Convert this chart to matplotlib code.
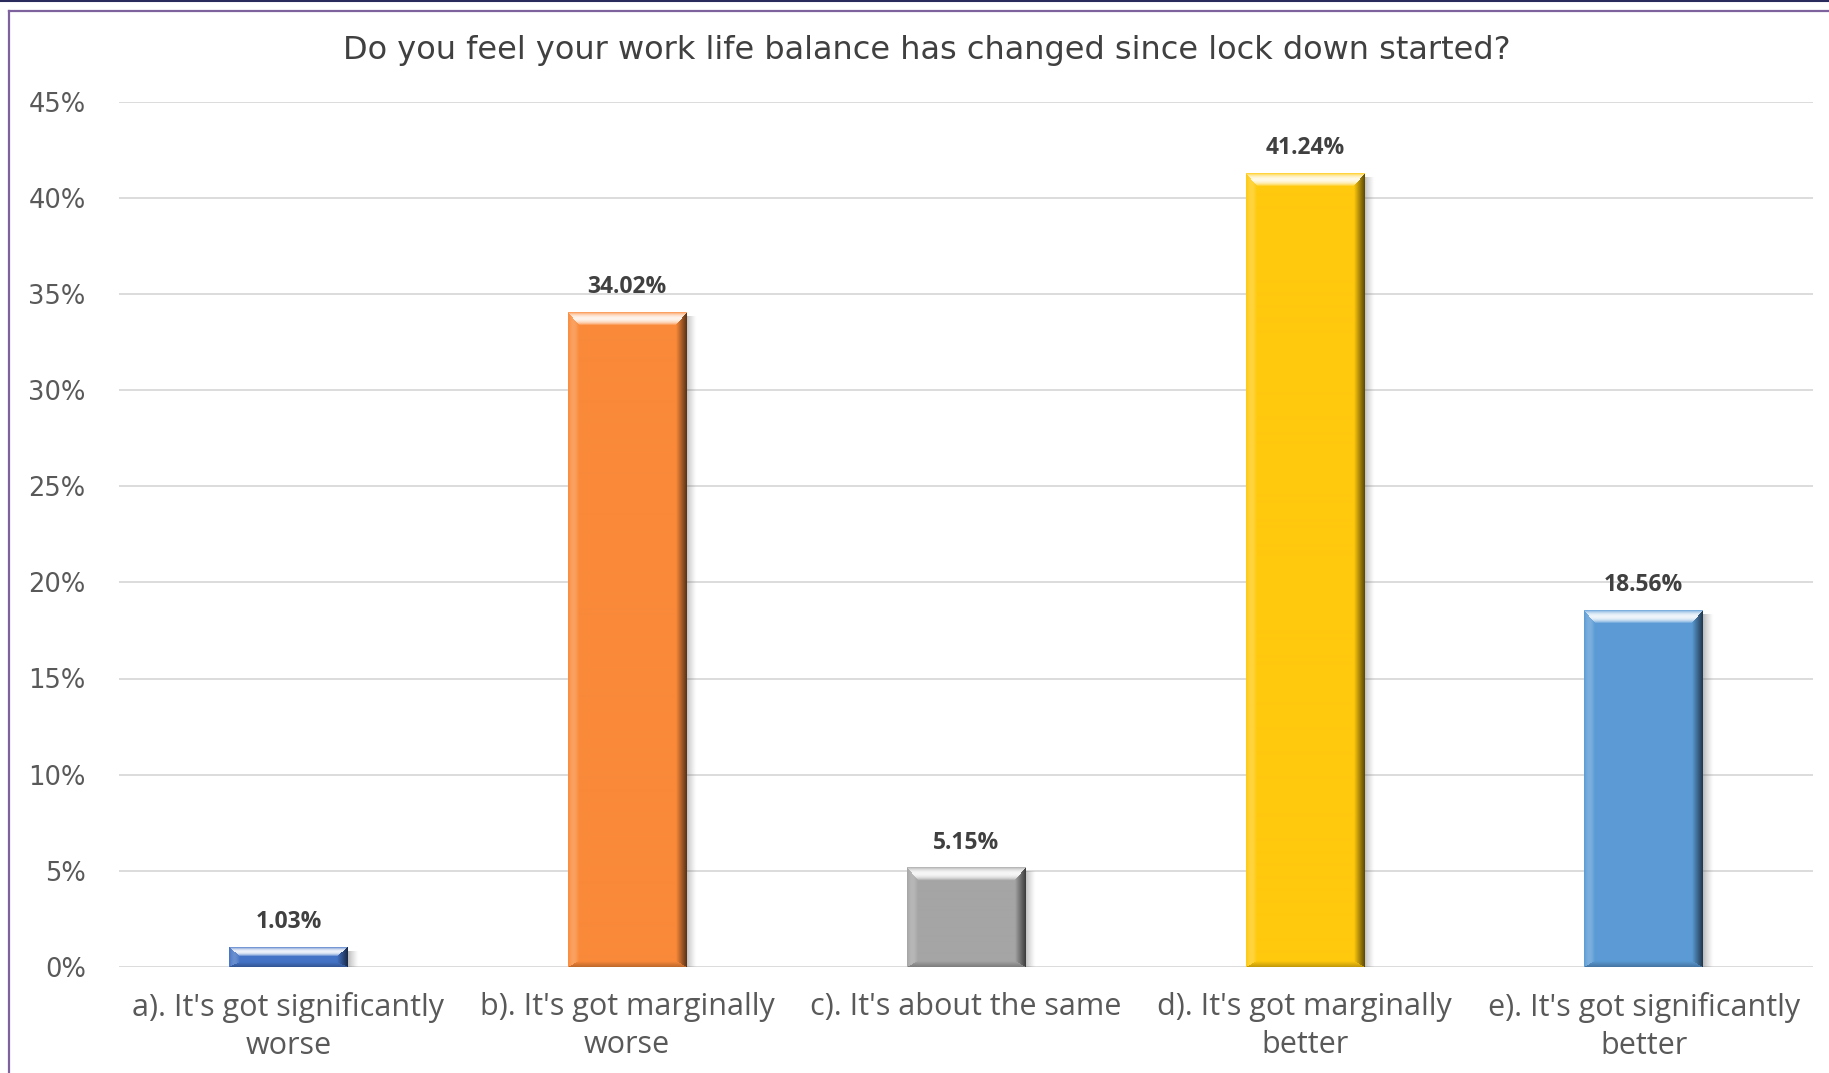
import matplotlib
matplotlib.use("Agg")
import matplotlib.pyplot as plt
import numpy as np
from matplotlib.lines import Line2D

categories = [
    "a). It's got significantly\nworse",
    "b). It's got marginally\nworse",
    "c). It's about the same",
    "d). It's got marginally\nbetter",
    "e). It's got significantly\nbetter",
]
values = [1.03, 34.02, 5.15, 41.24, 18.56]
bar_colors = ["#4472C4", "#FA8A3A", "#A5A5A5", "#FFC90E", "#5B9BD5"]
yticks = [0, 5, 10, 15, 20, 25, 30, 35, 40, 45]
title = "Do you feel your work life balance has changed since lock down started?"

W, H, DPI = 1829, 1073, 100
fig = plt.figure(figsize=(W / DPI, H / DPI), dpi=DPI)
fig.patch.set_facecolor("white")

# axes placed in pixel terms so bevel sizes can be given in pixels
ax_l, ax_r, ax_b, ax_t = 119, 1813, 106, 971.5
ax = fig.add_axes([ax_l / W, ax_b / H, (ax_r - ax_l) / W, (ax_t - ax_b) / H])
ax.set_xlim(-0.5, len(values) - 0.5)
ax.set_ylim(0, 45)
px_x = (ax_r - ax_l) / len(values)   # pixels per category
px_y = (ax_t - ax_b) / 45.0          # pixels per percent

bar_w = 0.35


def hex_rgb(c):
    c = c.lstrip("#")
    return np.array([int(c[i:i + 2], 16) for i in (0, 2, 4)]) / 255.0


def bevel_image(color, wpx, hpx):
    base = hex_rgb(color)
    hpx = max(int(round(hpx)), 2)
    wpx = int(round(wpx))
    rows = np.arange(hpx)[:, None] + 0.5
    cols = np.arange(wpx)[None, :] + 0.5
    bt = min(13.0, hpx / 2.2)
    bs = 11.0
    bb = min(6.0, hpx / 4.0)
    dt = rows / bt
    db = (hpx - rows) / bb
    dl = cols / bs
    dr = (wpx - cols) / bs
    d = np.stack(np.broadcast_arrays(dt, dr, db, dl))
    which = np.argmin(d, axis=0)
    dmin = np.min(d, axis=0)
    img = np.broadcast_to(base, (hpx, wpx, 3)).copy()
    inside = dmin < 1
    t = np.clip(dmin, 0, 1)
    white = np.ones(3)
    # top bevel: bright highlight band
    m = inside & (which == 0)
    k = (0.9 * np.sin(np.pi * t) ** 0.7)[..., None]
    img = np.where(m[..., None], img * (1 - k) + white * k, img)
    # right bevel: dark edge
    m = inside & (which == 1)
    k = (0.65 * (1 - t))[..., None]
    img = np.where(m[..., None], img * (1 - k), img)
    # bottom bevel: slight darkening
    m = inside & (which == 2)
    k = (0.25 * (1 - t))[..., None]
    img = np.where(m[..., None], img * (1 - k), img)
    # left bevel: slight lightening
    m = inside & (which == 3)
    k = (0.2 * np.sin(np.pi * t))[..., None]
    img = np.where(m[..., None], img * (1 - k) + white * k, img)
    return np.clip(img, 0, 1)


for y in yticks:
    ax.axhline(y, color="#D9D9D9", lw=1.3, zorder=0)

bars = ax.bar(range(len(values)), values, width=bar_w, color=bar_colors, zorder=2)

for i, (rect, v, c) in enumerate(zip(bars, values, bar_colors)):
    x0 = rect.get_x()
    x1 = x0 + rect.get_width()
    img = bevel_image(c, rect.get_width() * px_x, v * px_y)
    ax.imshow(img, extent=[x0, x1, 0, v], aspect="auto", zorder=3,
              interpolation="bilinear")
    # soft shadow on the right side of each bar
    sw = 11 / px_x
    shade = np.zeros((1, 20, 4))
    shade[..., :3] = 0.35
    shade[0, :, 3] = np.linspace(0.5, 0.0, 20) ** 1.3
    ax.imshow(shade, extent=[x1, x1 + sw, 0, max(v - 4 / px_y, v * 0.6)],
              aspect="auto", zorder=1, interpolation="bilinear")
    ax.annotate(f"{v:.2f}%", xy=(i, v), xytext=(0, 14), textcoords="offset points",
                ha="center", va="baseline", fontsize=16.5, fontweight="bold",
                family=["Open Sans", "DejaVu Sans"], color="#404040", zorder=4)

ax.set_xlim(-0.5, len(values) - 0.5)
ax.set_ylim(0, 45)
ax.set_yticks(yticks)
ax.set_yticklabels([f"{y}%" for y in yticks], fontsize=18.5, color="#595959",
                   family="DejaVu Sans")
ax.set_xticks(range(len(values)))
ax.set_xticklabels(categories, fontsize=22, color="#595959",
                   family=["Open Sans", "DejaVu Sans"], linespacing=1.33)
ax.tick_params(axis="y", length=0, pad=24)
ax.tick_params(axis="x", length=0, pad=18)
for s in ax.spines.values():
    s.set_visible(False)
ax.set_facecolor("none")

fig.text(927 / W, 1 - 50 / H, title, ha="center", va="center", fontsize=23,
         color="#404040", family="DejaVu Sans")

# chart frame lines
fig.add_artist(Line2D([0, 1], [1 - 0.8 / H, 1 - 0.8 / H], color="#2B2A5C", lw=1.5))
fig.add_artist(Line2D([8.5 / W, 1], [1 - 11 / H, 1 - 11 / H], color="#7E629E", lw=1.6))
fig.add_artist(Line2D([8.5 / W, 8.5 / W], [0, 1 - 11 / H], color="#7E629E", lw=1.6))

fig.savefig("out.png", dpi=DPI, facecolor="white")
